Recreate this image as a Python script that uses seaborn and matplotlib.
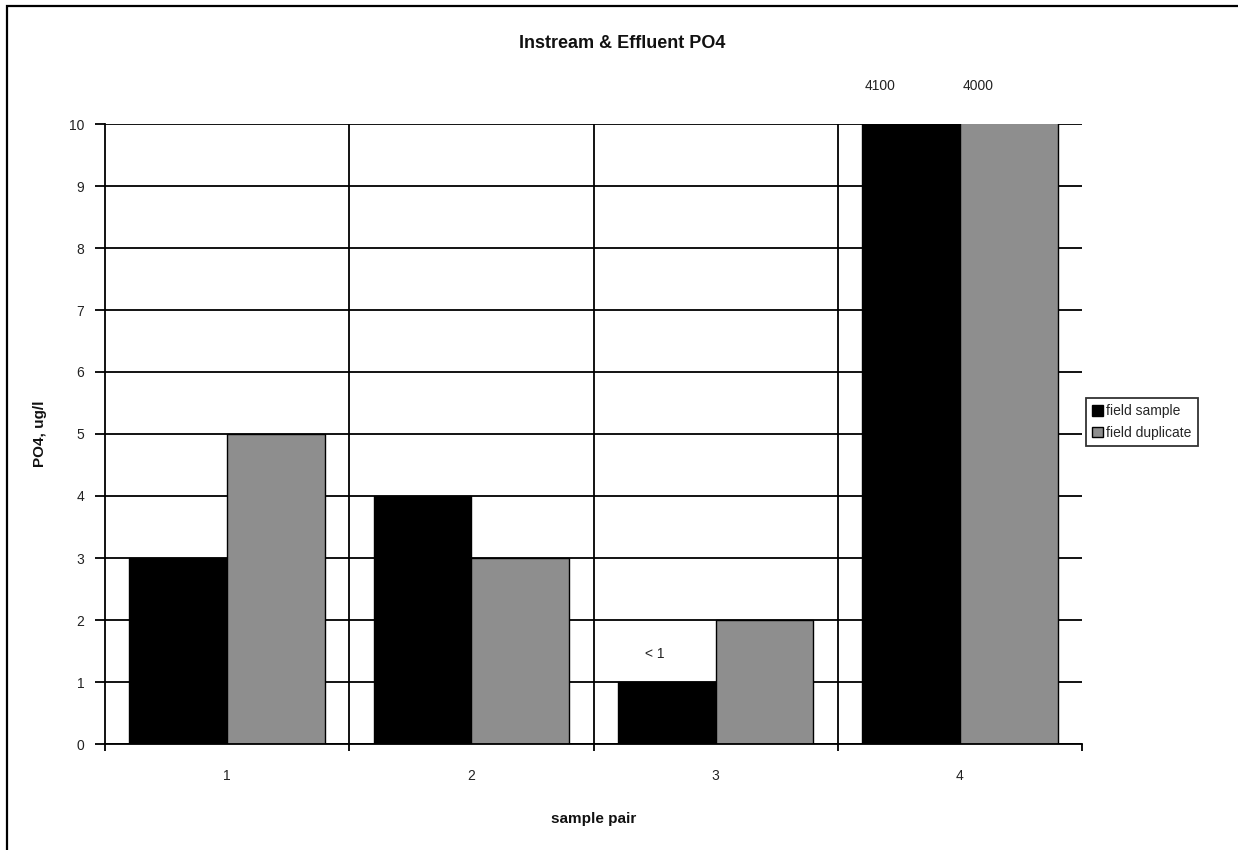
import matplotlib
matplotlib.use("Agg")
import matplotlib.pyplot as plt
import seaborn as sns
import pandas as pd
from matplotlib.patches import Rectangle

# ---- data ----
pairs = ["1", "2", "3", "4"]
series_names = ["field sample", "field duplicate"]
field_sample = [3, 4, 1, 4100]
field_duplicate = [5, 3, 2, 4000]
bar_labels_sample = ["", "", "< 1", "4100"]
bar_labels_dup = ["", "", "", "4000"]
y_ticks = [0, 1, 2, 3, 4, 5, 6, 7, 8, 9, 10]
title = "Instream & Effluent PO4"
x_label = "sample pair"
y_label = "PO4, ug/l"
colors = ["#000000", "#8e8e8e"]

df = pd.DataFrame({
    "pair": pairs * 2,
    "series": [series_names[0]] * len(pairs) + [series_names[1]] * len(pairs),
    "value": field_sample + field_duplicate,
})

sns.set_theme(style="white")
plt.rcParams["font.family"] = ["Liberation Sans", "DejaVu Sans"]

fig = plt.figure(figsize=(12.38, 8.5), dpi=100)
ax = fig.add_axes([105 / 1238, 1 - 744 / 850, (1082 - 105) / 1238, (744 - 124) / 850])

sns.barplot(data=df, x="pair", y="value", hue="series", hue_order=series_names,
            palette=colors, width=0.8, edgecolor="black", linewidth=1.0,
            ax=ax, legend=False, zorder=3)

ax.set_ylim(0, 10)
ax.set_xlim(-0.5, len(pairs) - 0.5)
ax.set_yticks(y_ticks)
ax.set_yticklabels([str(t) for t in y_ticks], fontsize=10, color="#222222")

# grid: horizontal at each integer, vertical at category boundaries
ax.grid(False)
for t in y_ticks:
    ax.axhline(t, color="black", lw=1.3, zorder=1)
for b in [0.5, 1.5, 2.5]:
    ax.axvline(b, color="black", lw=1.3, zorder=1)

ax.set_xticks([-0.5, 0.5, 1.5, 2.5, 3.5])
ax.set_xticklabels([])
ax.set_xticks(range(len(pairs)), minor=True)
ax.set_xticklabels(pairs, minor=True, fontsize=10, color="#222222")
ax.tick_params(axis="x", which="major", direction="out", length=5, width=1.3,
               color="black", bottom=True)
ax.tick_params(axis="x", which="minor", length=0, pad=18)
ax.tick_params(axis="y", direction="out", length=7, width=1.3, color="black",
               left=True, pad=8)

for s in ["top", "right"]:
    ax.spines[s].set_visible(False)
for s in ["left", "bottom"]:
    ax.spines[s].set_color("black")
    ax.spines[s].set_linewidth(1.3)
    ax.spines[s].set_zorder(4)

ax.set_xlabel(x_label, fontsize=11, fontweight="bold", labelpad=21, color="#111111")
ax.set_ylabel(y_label, fontsize=11, fontweight="bold", labelpad=16, color="#111111")

# value labels from bar patches
patches = [p for p in ax.patches if p.get_width() > 0]
n = len(pairs)
sample_patches = patches[:n]
dup_patches = patches[n:]
for plist, labels in [(sample_patches, bar_labels_sample), (dup_patches, bar_labels_dup)]:
    for p, lab in zip(plist, labels):
        if not lab:
            continue
        cx = p.get_x() + p.get_width() / 2
        h = p.get_height()
        if h > ax.get_ylim()[1]:
            ax.annotate(lab, xy=(cx, 1.0), xycoords=("data", "axes fraction"),
                        xytext=(-22, 22), textcoords="offset points",
                        ha="center", va="bottom", fontsize=10, color="#222222",
                        annotation_clip=False)
        else:
            ax.annotate(lab, xy=(cx, h), xycoords="data",
                        xytext=(-9, 15), textcoords="offset points",
                        ha="center", va="bottom", fontsize=10, color="#222222")

fig.suptitle(title, x=622 / 1238, y=1 - 35 / 850, fontsize=13, fontweight="bold",
             va="top", color="#111111")

handles = [Rectangle((0, 0), 1, 1, facecolor=c, edgecolor="black", lw=1.0) for c in colors]
leg = fig.legend(handles, series_names, loc="upper left",
                 bbox_to_anchor=(1086 / 1238, 1 - 398 / 850),
                 fontsize=10, frameon=True, fancybox=False, handlelength=0.8,
                 handleheight=0.8, handletextpad=0.2, borderpad=0.45,
                 labelspacing=0.55, borderaxespad=0)
leg.get_frame().set_edgecolor("black")
leg.get_frame().set_linewidth(1.3)

# outer chart border
fig.patches.append(Rectangle((7 / 1238, -0.05), 1.2, 1 - 6 / 850 + 0.05,
                             transform=fig.transFigure, fill=False,
                             edgecolor="black", lw=1.6, zorder=0))

fig.savefig("out.png", dpi=100)
